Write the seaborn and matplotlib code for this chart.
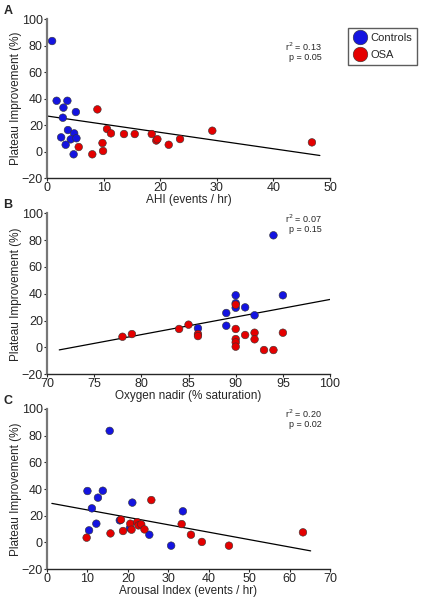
import numpy as np
import pandas as pd
import matplotlib
matplotlib.use("Agg")
import matplotlib.pyplot as plt
import seaborn as sns

# --- data ---
# Panel A: AHI
ahi_ctrl = [0.9, 1.7, 3.6, 2.9, 5.1, 2.8, 3.7, 4.8, 2.5, 4.2, 5.2, 3.3, 4.7]
ahi_ctrl_y = [83.4, 38.3, 38.3, 33.1, 29.8, 25.5, 16.2, 13.7, 10.7, 9.2, 10.0, 5.1, -2.1]
ahi_osa = [8.9, 10.6, 11.3, 13.6, 15.5, 18.5, 19.3, 19.5, 21.5, 23.5, 5.6, 9.8, 9.9, 8.0, 29.2, 46.8]
ahi_osa_y = [31.8, 17.0, 13.7, 13.2, 13.2, 13.2, 8.3, 9.3, 5.1, 9.4, 3.4, 6.4, 0.4, -2.1, 15.7, 6.9]
ahi_fit_x = [0, 48.2]
ahi_fit_y = [26.8, -3.0]

# Panel B: oxygen nadir
o2_ctrl = [94, 95, 90, 90, 90, 91, 89, 92, 89, 86]
o2_ctrl_y = [83.6, 38.9, 38.9, 33.0, 29.6, 29.9, 25.7, 24.0, 16.2, 14.3]
o2_osa = [84, 85, 86, 86, 90, 90, 90, 90, 90, 91, 92, 92, 93, 94, 95, 78, 79]
o2_osa_y = [13.8, 17.0, 10.0, 8.5, 31.9, 13.8, 6.3, 3.8, 0.6, 9.3, 11.0, 6.1, -1.9, -1.9, 11.0, 8.0, 10.0]
o2_fit_x = [71.3, 100]
o2_fit_y = [-1.8, 35.8]

# Panel C: arousal index
ar_ctrl = [15.5, 10.0, 13.8, 12.6, 21.1, 11.1, 18.0, 12.2, 20.5, 10.4, 25.3, 30.7, 33.6]
ar_ctrl_y = [83.6, 38.5, 38.7, 33.5, 29.8, 25.5, 16.5, 14.0, 10.7, 9.0, 5.7, -2.5, 23.3]
ar_osa = [9.8, 15.7, 18.8, 18.3, 20.6, 20.9, 22.3, 22.6, 23.3, 24.1, 25.8, 33.3, 35.6, 38.3, 45.0, 63.3]
ar_osa_y = [3.5, 6.7, 8.5, 17.0, 14.0, 9.5, 15.2, 12.7, 13.5, 9.7, 31.7, 13.7, 5.7, 0.3, -2.5, 7.5]
ar_fit_x = [1.2, 65.2]
ar_fit_y = [29.2, -6.4]

stats = ["r$^2$ = 0.13\np = 0.05", "r$^2$ = 0.07\np = 0.15", "r$^2$ = 0.20\np = 0.02"]
xlabels = ["AHI (events / hr)", "Oxygen nadir (% saturation)", "Arousal Index (events / hr)"]
xlims = [(0, 50), (70, 100), (0, 70)]
xticks = [range(0, 51, 10), range(70, 101, 5), range(0, 71, 10)]
panels = ["A", "B", "C"]
stat_y = [0.795, 0.94, 0.944]

sns.set_style("ticks")
plt.rcParams['font.family'] = ['Liberation Sans', 'DejaVu Sans']

blue = '#1414e0'
red = '#e40000'

fig = plt.figure(figsize=(4.25, 6.02), dpi=100)
rects = [[0.1106, 0.7043, 0.666, 0.2641],
         [0.1106, 0.3782, 0.666, 0.2675],
         [0.1106, 0.0548, 0.666, 0.2658]]

sets = [(ahi_ctrl, ahi_ctrl_y, ahi_osa, ahi_osa_y, ahi_fit_x, ahi_fit_y),
        (o2_ctrl, o2_ctrl_y, o2_osa, o2_osa_y, o2_fit_x, o2_fit_y),
        (ar_ctrl, ar_ctrl_y, ar_osa, ar_osa_y, ar_fit_x, ar_fit_y)]

for i, (cx, cy, ox, oy, fx, fy) in enumerate(sets):
    ax = fig.add_axes(rects[i])
    df = pd.DataFrame({"x": cx + ox, "y": cy + oy,
                       "group": ["Controls"] * len(cx) + ["OSA"] * len(ox)})
    # regression line
    sns.lineplot(x=fx, y=fy, ax=ax, color='black', lw=0.9)
    sns.scatterplot(data=df, x="x", y="y", hue="group", palette={"Controls": blue, "OSA": red},
                    s=30, edgecolor='#333333', linewidth=0.4, ax=ax, legend=(i == 0), zorder=3)
    ax.set_xlim(*xlims[i])
    ax.set_ylim(-20, 100)
    ax.set_xticks(list(xticks[i]))
    ax.set_yticks(range(-20, 101, 20))
    ax.set_xlabel(xlabels[i], fontsize=8.5, labelpad=0)
    ax.set_ylabel("Plateau Improvement (%)", fontsize=8.5, labelpad=-0.5)
    ax.tick_params(labelsize=9, length=2.5, width=0.8, pad=0.5)
    sns.despine(ax=ax)
    ax.spines['left'].set_color('#777777')
    ax.spines['left'].set_linewidth(1.6)
    ax.spines['bottom'].set_linewidth(1.0)
    ax.text(0.97, stat_y[i], stats[i], transform=ax.transAxes, ha='right', va='center',
            fontsize=6.5, linespacing=1.0)
    fig.text(0.008, rects[i][1] + rects[i][3] + 0.014, panels[i], fontsize=9,
             fontweight='bold', va='center')
    if i == 0:
        h, l = ax.get_legend_handles_labels()
        ax.get_legend().remove()
        for hh in h:
            hh.set_markersize(10.5)
            hh.set_markeredgecolor('#333333')
        fig.legend(h, l, loc='upper left', bbox_to_anchor=(0.819, 0.9535), frameon=True,
                   fontsize=8, fancybox=False, edgecolor='#333333', handletextpad=0.35,
                   borderpad=0.45, labelspacing=0.65, handlelength=1.2, borderaxespad=0)

fig.savefig("out.png", dpi=100)
